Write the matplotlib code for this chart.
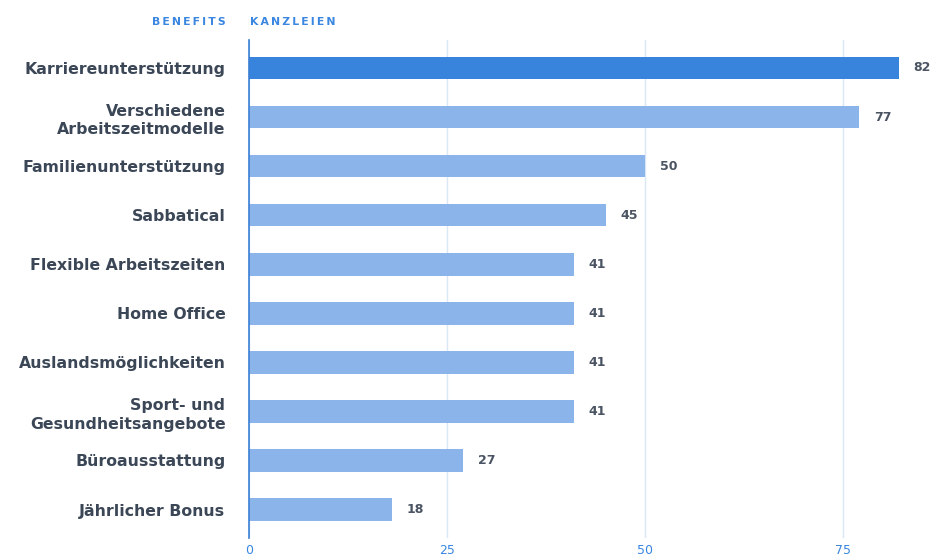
import matplotlib
matplotlib.use("Agg")
import matplotlib.pyplot as plt

# Data
categories = [
    "Karriereunterstützung",
    "Verschiedene\nArbeitszeitmodelle",
    "Familienunterstützung",
    "Sabbatical",
    "Flexible Arbeitszeiten",
    "Home Office",
    "Auslandsmöglichkeiten",
    "Sport- und\nGesundheitsangebote",
    "Büroausstattung",
    "Jährlicher Bonus",
]
values = [82, 77, 50, 45, 41, 41, 41, 41, 27, 18]
x_ticks = [0, 25, 50, 75]
header_left = "BENEFITS"
header_right = "KANZLEIEN"

FONT = ["DejaVu Sans"]
plt.rcParams["font.family"] = FONT

W, H, DPI = 938, 556, 100
fig = plt.figure(figsize=(W / DPI, H / DPI), dpi=DPI)
ax_left, ax_right, ax_top, ax_bottom = 249, 932, 40, 538
ax = fig.add_axes([ax_left / W, 1 - ax_bottom / H,
                   (ax_right - ax_left) / W, (ax_bottom - ax_top) / H])

highlight = "#3883db"
normal = "#8ab4ea"
text_dark = "#3b4756"
blue_text = "#3a86e0"

y = list(range(len(categories)))
colors = [highlight] + [normal] * (len(values) - 1)
ax.barh(y, values, height=0.46, color=colors, zorder=2)

ax.set_xlim(0, 86.2)
ax.set_ylim(9.58, -0.57)

ax.set_xticks(x_ticks)
ax.set_xticklabels([str(t) for t in x_ticks], color=blue_text, fontsize=9)
ax.tick_params(axis="x", length=0, pad=4)
ax.xaxis.grid(True, color="#d9e7f7", linewidth=1, zorder=0)

ax.set_yticks(y)
ax.set_yticklabels(categories, fontsize=11.3, fontweight="bold", color=text_dark,
                   linespacing=1.3)
ax.tick_params(axis="y", length=0, pad=17)

for s in ["top", "right", "bottom"]:
    ax.spines[s].set_visible(False)
ax.spines["left"].set_color("#3a7fd5")
ax.spines["left"].set_linewidth(1.2)
ax.spines["left"].set_zorder(3)

# Value labels at bar ends
for yi, v in zip(y, values):
    ax.annotate(str(v), xy=(v, yi), xytext=(15, 0), textcoords="offset pixels",
                ha="left", va="center", fontsize=9, fontweight="semibold",
                color="#4a5462", annotation_clip=False)

def spaced(s):
    return "\u2009".join(s)

fig.text(226 / W, 1 - 22 / H, spaced(header_left), ha="right", va="center",
         fontsize=7.8, fontweight="bold", color=blue_text)
fig.text(250 / W, 1 - 22 / H, spaced(header_right), ha="left", va="center",
         fontsize=7.8, fontweight="bold", color=blue_text)

fig.savefig("out.png", dpi=DPI)
